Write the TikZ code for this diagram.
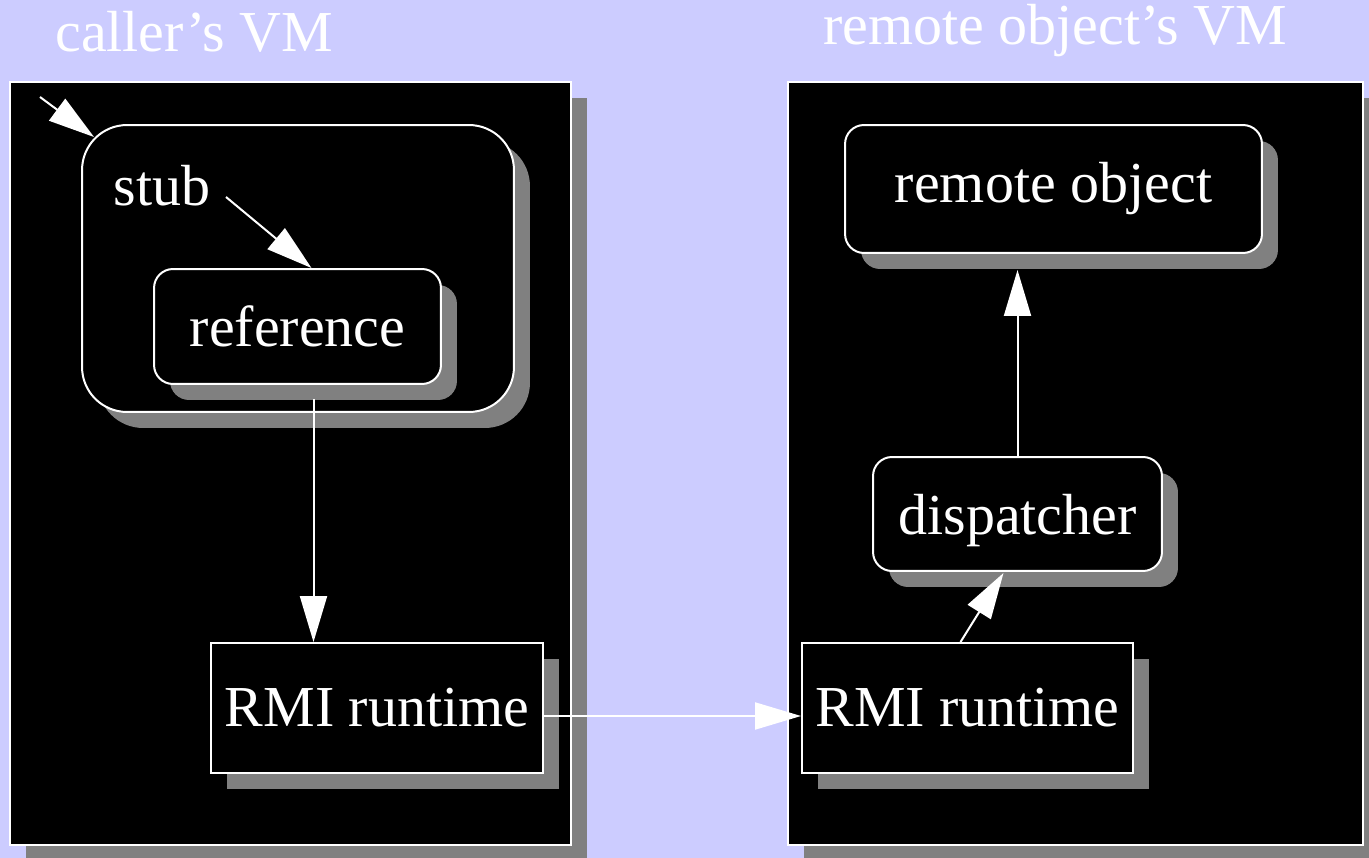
\documentclass[tikz,border=0pt]{standalone}
\usepackage{fontspec}
\setmainfont{Liberation Serif}
\usepackage{tikz}
\usetikzlibrary{arrows.meta}
\usetikzlibrary{shapes,shadows}
\usetikzlibrary{calc,positioning}
\usepackage{xcolor}
\definecolor{lavender}{RGB}{204,204,255}
\definecolor{shadowgray}{RGB}{128,128,128}

\begin{document}
\begin{tikzpicture}[x=0.02cm,y=-0.02cm]
      \tikzstyle{every node}=[text=white,font=\fontsize{33}{40}\selectfont]
      \tikzstyle{shade}=[general shadow={fill=shadowgray,shadow xshift=0.32cm,shadow yshift=-0.32cm}]
      \tikzstyle{vm}=[draw=white,fill=black,line width=0.04cm,shade,minimum height=15.26cm]
      \tikzstyle{box}=[draw=white,fill=black,line width=0.04cm,shade]
      \tikzstyle{arr}=[draw=white,line width=0.04cm,-{Triangle[length=0.92cm,width=0.54cm]}]
      \useasboundingbox (0,0) rectangle (1369,858);
      \fill[lavender] (0,0) rectangle (1369,858);

      \node[anchor=base] (callertitle) at (194,52) {caller’s VM};
      \node[anchor=base] (remotetitle) at (1055,45) {remote object’s VM};

      \node[vm,minimum width=11.22cm] (callervm) at (290.5,463.5) {};
      \node[vm,minimum width=11.5cm]  (remotevm) at (1075.5,463.5) {};

      \node[box,rounded corners=0.9cm,minimum width=8.64cm,minimum height=5.74cm] (stub) at (298,268.5) {};
      \node (stubtxt) at (162,186) {stub};
      \node[box,rounded corners=0.38cm,minimum width=5.74cm,minimum height=2.3cm] (reference) at (297.5,326.5) {reference};
      \node[box,minimum width=6.64cm,minimum height=2.6cm] (rmiL) at (377,708) {RMI runtime};

      \node[box,rounded corners=0.38cm,minimum width=8.34cm,minimum height=2.56cm] (remote) at (1053.5,189) {remote object};
      \node[box,rounded corners=0.38cm,minimum width=5.78cm,minimum height=2.28cm,text depth=0pt] (disp) at (1017.5,514) {dispatcher};
      \node[box,minimum width=6.62cm,minimum height=2.6cm] (rmiR) at (967.5,708) {RMI runtime};

      \coordinate (callin) at (40,97);
      \coordinate (refout) at ($(reference.south)+(16,14)$);
      \coordinate (remotein) at ($(remote.south)+(0,16)$);

      \draw[arr] (callin) -- ($(stub.north west)+(13,13)$);
      \draw[arr] ($(stubtxt.center)+(64,11)$) -- ($(reference.north)+(14,0)$);
      \draw[arr] (refout) -- (refout |- rmiL.north);
      \draw[arr] ($(rmiL.east)+(0,8)$) -- ($(rmiR.west)+(0,8)$);
      \draw[arr] ($(rmiR.north)+(-7,0)$) -- ($(disp.south)+(-14,1)$);
      \draw[arr] (disp.north) -- (disp.north |- remotein);
\end{tikzpicture}
\end{document}
